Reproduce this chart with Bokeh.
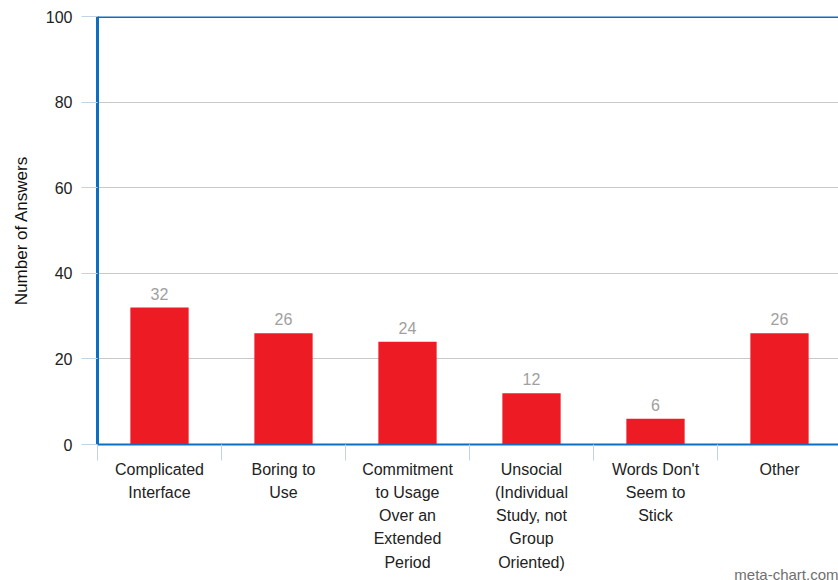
from bokeh.plotting import figure
from bokeh.models import Range1d, FixedTicker, Span, ColumnDataSource, Title
from bokeh.embed import file_html
from bokeh.resources import INLINE
from bokeh.core.properties import value

# ---- data ----
categories = [
    "Complicated\nInterface",
    "Boring to\nUse",
    "Commitment\nto Usage\nOver an\nExtended\nPeriod",
    "Unsocial\n(Individual\nStudy, not\nGroup\nOriented)",
    "Words Don't\nSeem to\nStick",
    "Other",
]
answers = [32, 26, 24, 12, 6, 26]
y_ticks = [0, 20, 40, 60, 80, 100]
y_title = "Number of Answers"
watermark = "meta-chart.com"

# ---- style ----
FONT = "Liberation Sans"
BLUE = "#0b6fc4"
LIGHT_BLUE = "#c3d3e6"
BAR_RED = "#ed1c24"
GRID = "#c8c8c8"

n = len(categories)
idx = list(range(n))
x_end = -0.5 + 741 / 124

p = figure(
    width=838, height=580,
    x_range=Range1d(-0.5, x_end), y_range=Range1d(0, 100),
    output_backend="svg", toolbar_location=None,
    min_border_left=97, min_border_right=0, min_border_top=16, min_border_bottom=136,
)
p.outline_line_color = None
p.background_fill_color = "white"
p.border_fill_color = "white"

src = ColumnDataSource(dict(x=idx, y=answers, label=[str(a) for a in answers]))

p.vbar(x="x", top="y", width=0.47, bottom=0, source=src,
       fill_color=BAR_RED, line_color=None)

p.text(x="x", y="y", text="label", source=src, text_align="center",
       text_baseline="bottom", y_offset=-8, text_color="#a0a0a0",
       text_font_size="16px", text_font=value(FONT))

# grid
p.xgrid.grid_line_color = None
p.ygrid.ticker = FixedTicker(ticks=y_ticks[1:-1])
p.ygrid.grid_line_color = GRID
p.ygrid.grid_line_width = 1

# top border
p.add_layout(Span(location=y_ticks[-1], dimension="width", line_color=BLUE, line_width=3))

# y axis
ya = p.yaxis[0]
ya.ticker = FixedTicker(ticks=y_ticks)
ya.axis_line_color = BLUE
ya.axis_line_width = 3
ya.major_tick_in = 0
ya.major_tick_out = 16
ya.major_tick_line_color = LIGHT_BLUE
ya.minor_tick_line_color = None
ya.major_label_standoff = 9
ya.major_label_text_font = FONT
ya.major_label_text_font_size = "16px"
ya.major_label_text_color = "#222222"
ya.axis_label = y_title
ya.axis_label_text_font = FONT
ya.axis_label_text_font_size = "17px"
ya.axis_label_text_font_style = "normal"
ya.axis_label_text_color = "#111111"
ya.axis_label_standoff = 12

# x axis
xa = p.xaxis[0]
xa.ticker = FixedTicker(ticks=idx, minor_ticks=[i - 0.5 for i in range(n + 1)])
xa.major_label_overrides = {i: c for i, c in zip(idx, categories)}
xa.axis_line_color = BLUE
xa.axis_line_width = 2
xa.major_tick_line_color = None
xa.major_tick_in = 0
xa.major_tick_out = 16
xa.minor_tick_line_color = LIGHT_BLUE
xa.minor_tick_in = 0
xa.minor_tick_out = 16
xa.major_label_standoff = 0
xa.major_label_text_font = FONT
xa.major_label_text_font_size = "16px"
xa.major_label_text_color = "#222222"
xa.major_label_text_line_height = 1.37

# watermark, right aligned below the axis
p.add_layout(Title(text=watermark, align="right", standoff=-19,
                   text_font=FONT, text_font_size="15px",
                   text_font_style="normal", text_color="#707070"), "below")

open("out.html", "w").write(file_html(p, INLINE))
